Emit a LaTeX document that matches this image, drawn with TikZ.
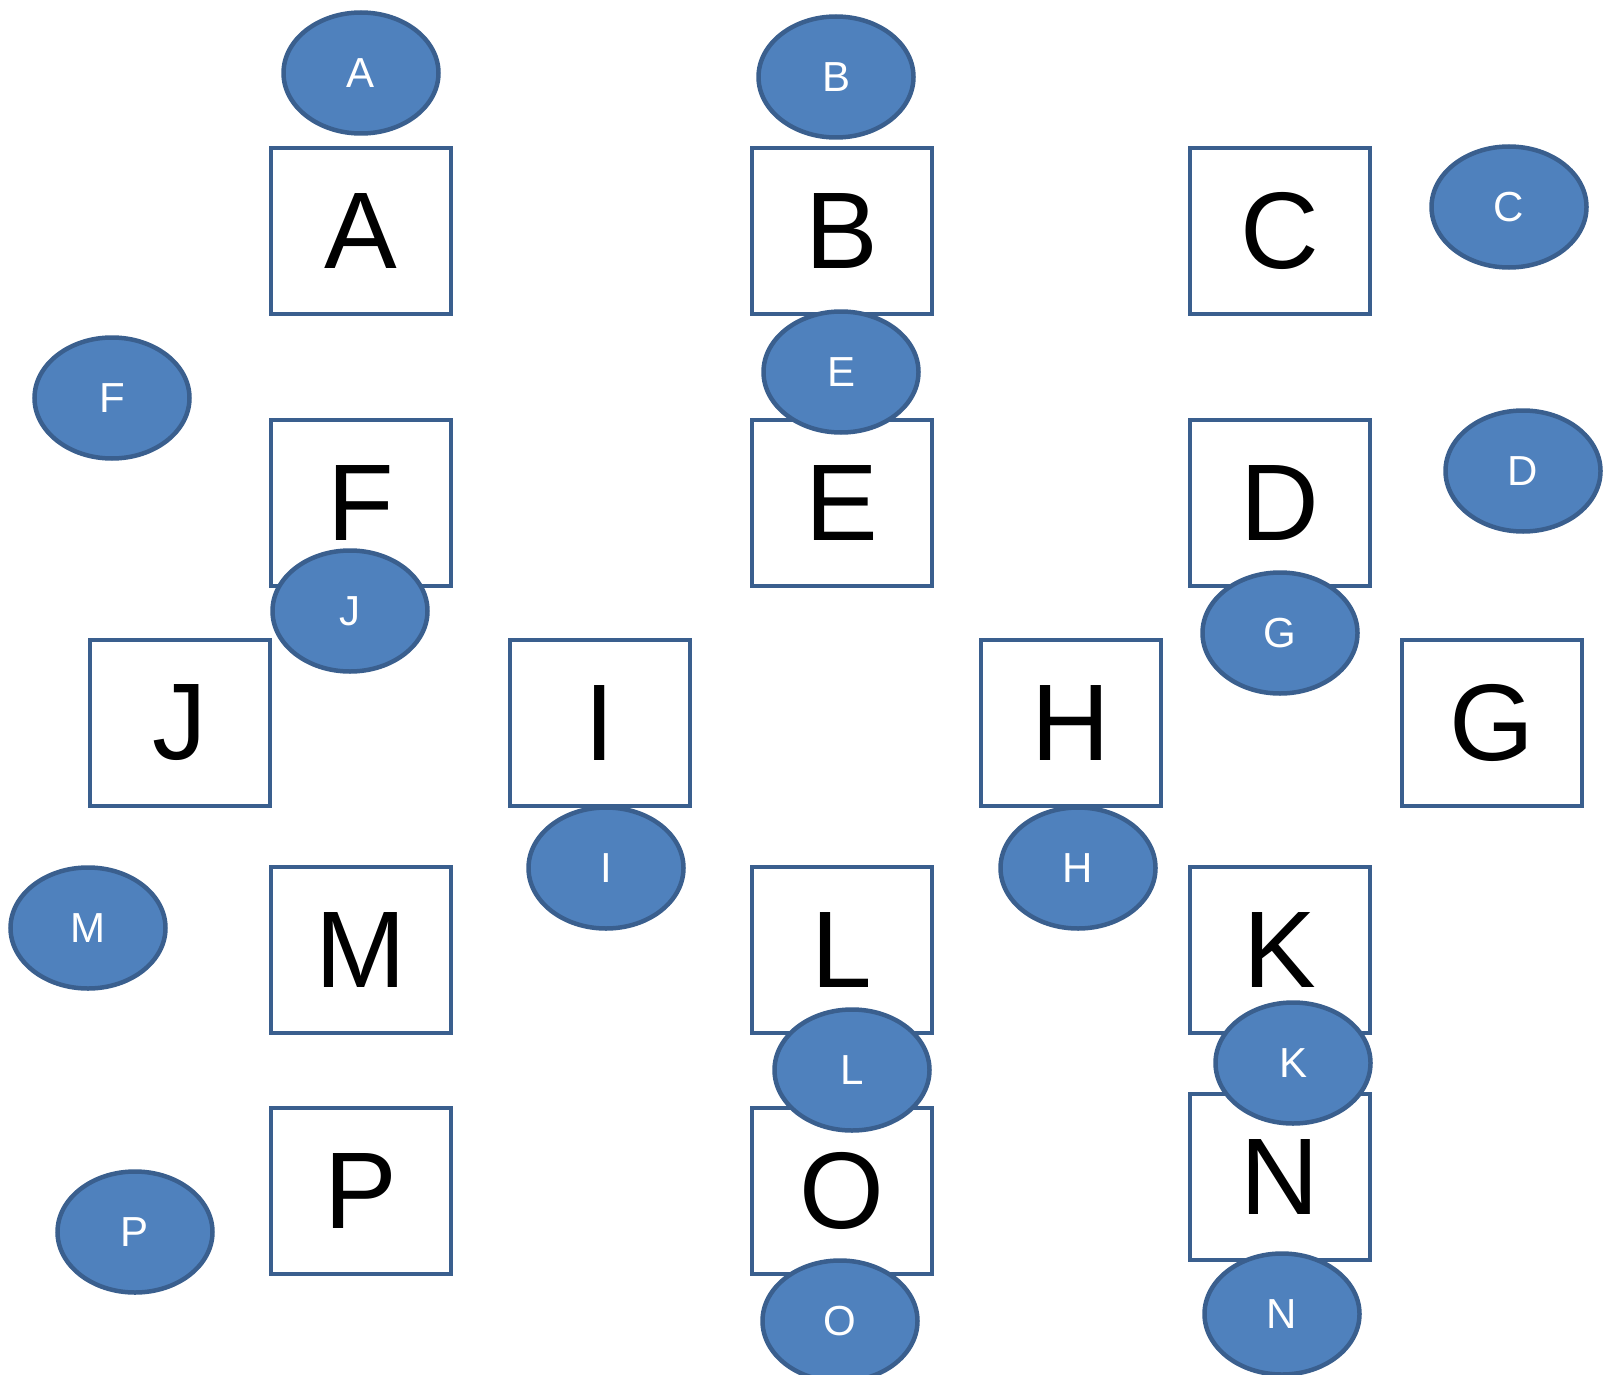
\documentclass[tikz,border=0pt]{standalone}
\usepackage{fontspec}
\setmainfont{Liberation Sans}
\usetikzlibrary{shapes.geometric}
\definecolor{edgeblue}{HTML}{3A5F8E}
\definecolor{fillblue}{HTML}{4F81BD}
\tikzset{
  sqbox/.style={draw=edgeblue, line width=4.5pt, fill=white, rectangle, minimum width=180pt, minimum height=166pt, inner sep=0pt, font=\fontsize{109}{112}\selectfont},
  oval/.style={draw=edgeblue, line width=4.5pt, fill=fillblue, ellipse, minimum width=155pt, minimum height=121pt, inner sep=0pt, text=white, font=\fontsize{42}{44}\selectfont}
}
\begin{document}
\begin{tikzpicture}[x=1pt,y=-1pt]
\useasboundingbox (0,0) rectangle (1603,1375);
\clip (0,0) rectangle (1603,1375);
% boxes
\node[sqbox] (bA) at (361,231) {A};
\node[sqbox] (bB) at (842,231) {B};
\node[sqbox] (bC) at (1280,231) {C};
\node[sqbox] (bF) at (361,503) {F};
\node[sqbox] (bE) at (842,503) {E};
\node[sqbox] (bD) at (1280,503) {D};
\node[sqbox] (bJ) at (180,723) {J};
\node[sqbox] (bI) at (600,723) {I};
\node[sqbox] (bH) at (1071,723) {H};
\node[sqbox] (bG) at (1492,723) {G};
\node[sqbox] (bM) at (361,950) {M};
\node[sqbox] (bL) at (842,950) {L};
\node[sqbox] (bK) at (1280,950) {K};
\node[sqbox] (bP) at (361,1191) {P};
\node[sqbox] (bO) at (842,1191) {O};
\node[sqbox] (bN) at (1280,1177) {N};
% ovals
\node[oval] (eA) at (361,73) {A};
\node[oval] (eB) at (836,77) {B};
\node[oval] (eC) at (1509,207) {C};
\node[oval] (eF) at (112,398) {F};
\node[oval] (eE) at (841,372) {E};
\node[oval] (eD) at (1523,471) {D};
\node[oval] (eJ) at (350,611) {J};
\node[oval] (eG) at (1280,633) {G};
\node[oval] (eI) at (606,868) {I};
\node[oval] (eH) at (1078,868) {H};
\node[oval] (eM) at (88,928) {M};
\node[oval] (eL) at (852,1070) {L};
\node[oval] (eK) at (1293,1063) {K};
\node[oval] (eP) at (135,1232) {P};
\node[oval] (eO) at (840,1321) {O};
\node[oval] (eN) at (1282,1314) {N};
\end{tikzpicture}
\end{document}
